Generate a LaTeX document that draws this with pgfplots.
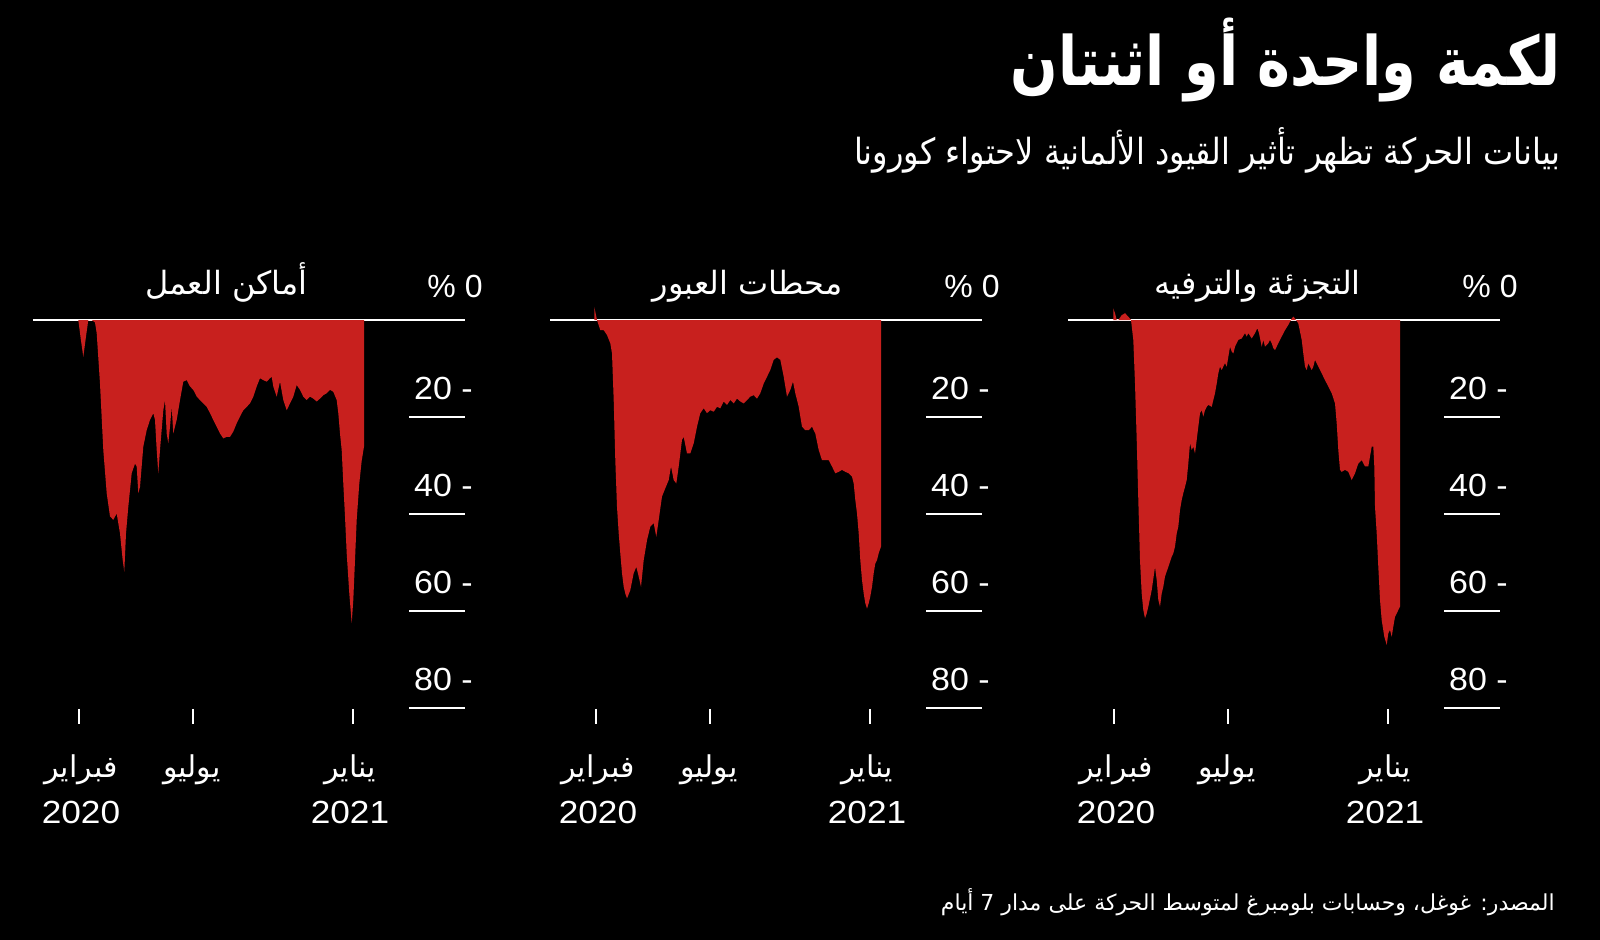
\documentclass[border=0pt]{standalone}
\usepackage{fontspec}
\setmainfont{Liberation Sans}
\newfontfamily\arabicfont[Script=Arabic]{DejaVu Sans}
\usepackage{graphicx}
\usepackage{pgfplots}
\pgfplotsset{compat=1.18}
\TeXXeTstate=1
\definecolor{areared}{RGB}{200,32,30}
\newcommand\num[1]{\scalebox{1.06}[1]{#1}}

\pgfplotstableread{
x y
0.3 0
2.7 3.8
5.3 7.6
8 3.4
10.3 0
13.7 0
17 0.5
18.7 2.7
22 13.1
25.3 26.8
28.7 35.7
32 40.5
35.3 41.2
38.7 39.9
42 44
44.7 49.5
46.3 51.9
48 44
50.3 38.5
53.7 31.6
57 29.6
58.7 30.2
60.3 35.7
62 34.4
65.3 26.1
68.7 22.7
72 20.6
75.3 19.2
77 20.6
78.7 26.8
80.3 31.6
82 26.8
85.3 18.6
87 16.5
88.7 23.4
90.3 25.4
92 22
93.7 17.9
95.3 23.4
98.7 20.6
102 16.5
105.3 12.7
108.7 12.4
112 13.7
115.3 14.4
118.7 15.8
122 16.5
125.3 17.2
128.7 17.9
132 19.2
135.3 20.6
138.7 22
142 23.4
145.3 24.4
148.7 24.1
152 24.1
155.3 23
158.7 21.3
162 19.9
165.3 18.6
168.7 17.9
172 17.2
175.3 15.8
178.7 13.7
182 12
185.3 12.4
188.7 12.7
192 12
193.7 11.7
195.3 13.7
198.7 15.8
202 12.7
205.3 16.5
208.7 18.6
212 17.2
215.3 15.8
218.7 13.4
222 14.4
225.3 15.8
228.7 16.5
232 15.8
235.3 16.2
238.7 16.8
242 16.2
245.3 15.5
248.7 15.1
252 14.4
255.3 14.8
258.7 16.5
260.3 19.2
262 23.4
263.7 26.8
265.3 33.7
267 40.5
268.7 48.1
271.3 56.4
273.7 62.5
275.3 57.7
277 49.5
278.7 41.2
281.3 33.7
283.7 29
286 26.1
}\workplaces

\pgfplotstableread{
x y
-0.7 -2.7
2 0
5.3 2.1
8.7 2.1
12 3.1
15.3 4.8
17 6.9
18.7 16.5
20.3 28.9
22 38.5
23.7 44
25.3 48.1
27 52.2
28.7 55
30.3 56.4
32 57.4
35.3 55.7
38.7 52.2
41.3 50.9
43.7 52.9
46 55
48.7 49.5
52 45.4
55.3 42.6
58.7 41.9
61.3 44.7
63.7 41.2
67 36.4
70.3 34.7
73.7 33
76 30.2
78.7 33
81.3 33.7
83.7 30.2
87 24.7
88.7 24.1
92 27.5
95.3 27.5
98.7 25.4
102 22
105.3 19.2
108.7 18.2
112 19.2
115.3 18.6
118.7 18.9
122 17.9
125.3 18.2
128.7 16.8
132 17.5
135.3 16.5
138.7 17.2
142 16.2
145.3 16.8
148.7 17.2
152 16.5
155.3 15.8
158.7 15.5
162 16.2
165.3 15.1
168.7 13.1
172 11.7
175.3 10.3
178.7 8.2
182 7.7
185.3 8.2
188.7 11.7
192 15.8
195.3 14.4
198 12.7
200.3 15.1
203.7 17.9
207 22
210.3 22.7
213.7 22.7
217 22
220.3 23.4
223.7 26.8
227 28.9
230.3 28.9
233.7 28.9
237 30.2
240.3 31.6
243.7 31.3
247 30.9
250.3 31.3
253.7 31.6
257 32.3
258.7 33.7
260.3 37.1
262 39.9
263.7 44
265.3 49.5
267 53.6
268.7 56.4
270.3 58.4
272 59.5
273.7 58.4
275.3 57
277 55
278.7 52.2
280.3 50.2
282 49.5
283.7 48.1
286 46.7
}\transit

\pgfplotstableread{
x y
0.3 -2.4
2 -1.4
3.7 0
5.3 0
8.7 -1
12 -1.4
15.3 -0.7
18 0
20.3 4.1
22 13.1
23.7 24.7
25.3 37.1
27 49.5
28.7 56.4
30.3 59.8
32 61.5
33.7 60.5
35.3 59.1
38.7 55.7
42 50.9
43.7 53.6
45.3 57.7
47 59.1
48.7 56.4
50.3 55
52 52.9
55.3 50.9
58.7 48.8
60.3 48.1
62 46.7
63.7 44
65.3 42.6
67 39.2
68.7 37.1
70.3 35.7
72 34.4
73.7 33
75.3 29.6
77 25.4
78.7 26.8
80.3 26.1
82 27.5
83.7 24.7
85.3 22
87 19.2
88.7 18.6
90.3 19.9
92 18.6
93.7 17.9
95.3 17.5
98.7 17.9
100.3 16.5
102 15.1
103.7 13.1
105.3 11
107 9.6
108.7 10.3
110.3 9.6
112 8.9
113.7 9.6
115.3 7.6
117 5.5
118.7 6.5
120.3 6.9
122 5.5
123.7 4.8
125.3 4.1
128.7 3.8
132 2.7
133.7 3.4
135.3 2.7
138.7 3.8
142 2.7
144.3 1.7
146 2.7
148.7 5.5
150.3 4.1
152 5.5
155.3 4.8
157 4.1
158.7 4.8
160.3 5.8
162 6.2
165.3 4.8
168.7 3.4
172 2.1
175.3 1
178.7 -0.3
180.3 -0.7
182 -0.3
185.3 0.7
188.7 4.1
190.3 6.9
192 9.6
193.7 10.3
195.3 8.9
197 9.6
198.7 10.3
200.3 9.6
202 8.2
205.3 9.6
208.7 11
212 12.4
215.3 13.7
218.7 15.1
222 17.2
223.7 21.3
225.3 26.8
227 30.9
228.7 31.3
232 30.9
235.3 31.3
238.7 33
242 31.6
245.3 29.6
248.7 28.9
252 30.2
255.3 30.2
258.7 26.1
260.3 26.1
261.3 30.2
262 38.5
263.7 44
265.3 50.9
267 57.7
268.7 61.9
271.3 65.3
273.7 67
275.3 64.6
277 63.9
278.7 65.3
280.3 63.2
282 61.2
283.7 60.5
285.3 59.8
287 59.1
}\retail

\pgfplotsset{
  panel/.style={
    scale only axis, width=216pt, height=218.25pt,
    xmin=-45, xmax=387, ymin=-10, ymax=80, y dir=reverse,
    hide axis, clip=false, anchor=south west}
}
\tikzset{
  lab/.style={white, inner sep=0pt, font=\fontsize{15}{18}\selectfont},
  numlab/.style={white, inner sep=0pt, font=\fontsize{16}{19}\selectfont}
}

% zero line, right-hand scale, panel title and month ticks
\newcommand\paneldecor[2]{%
  \draw[white, line width=1pt] (axis cs:-45,0) -- (axis cs:387,0);
  \draw[white, line width=1pt] (axis cs:331,20) -- (axis cs:387,20);
  \draw[white, line width=1pt] (axis cs:331,40) -- (axis cs:387,40);
  \draw[white, line width=1pt] (axis cs:331,60) -- (axis cs:387,60);
  \draw[white, line width=1pt] (axis cs:331,80) -- (axis cs:387,80);
  \node[numlab, anchor=base east] at (axis cs:405,-4.7) {\% 0};
  \node[numlab, anchor=base east] at (axis cs:395,16.3) {\num{20 -}};
  \node[numlab, anchor=base east] at (axis cs:395,36.3) {\num{40 -}};
  \node[numlab, anchor=base east] at (axis cs:395,56.3) {\num{60 -}};
  \node[numlab, anchor=base east] at (axis cs:395,76.3) {\num{80 -}};
  \node[lab, anchor=base east, font=\fontsize{16}{19}\selectfont] at (axis cs:#1,-5.2) {\arabicfont\beginR #2\endR};
  \draw[white, line width=1pt] (axis cs:1,80.2) -- (axis cs:1,83.3);
  \draw[white, line width=1pt] (axis cs:115,80.2) -- (axis cs:115,83.3);
  \draw[white, line width=1pt] (axis cs:275,80.2) -- (axis cs:275,83.3);
  \node[lab, anchor=base] at (axis cs:3,94.4) {\arabicfont\beginR فبراير\endR};
  \node[numlab, anchor=base] at (axis cs:3,103.9) {\scalebox{1.1}[1]{2020}};
  \node[lab, anchor=base] at (axis cs:114,94.4) {\arabicfont\beginR يوليو\endR};
  \node[lab, anchor=base] at (axis cs:272,94.4) {\arabicfont\beginR يناير\endR};
  \node[numlab, anchor=base] at (axis cs:272,103.9) {\scalebox{1.1}[1]{2021}};
}

\begin{document}
\begin{tikzpicture}
\begin{scope}[x=0.5pt, y=-0.5pt]
  \fill[black] (0,0) rectangle (1600,940);
  \node[white, inner sep=0pt, anchor=base east,
        font=\fontsize{34}{40}\selectfont\bfseries] at (1561,86)
        {\scalebox{0.82}[1]{\arabicfont\beginR لكمة واحدة أو اثنتان\endR}};
  \node[white, inner sep=0pt, anchor=base east,
        font=\fontsize{18}{22}\selectfont] at (1561,165)
        {\scalebox{0.89}[1]{\arabicfont\beginR بيانات الحركة تظهر تأثير القيود الألمانية لاحتواء كورونا\endR}};
  \node[white, inner sep=0pt, anchor=base east,
        font=\fontsize{11}{13}\selectfont] at (1555,910)
        {\arabicfont\beginR المصدر: غوغل، وحسابات بلومبرغ لمتوسط الحركة على مدار 7 أيام\endR};
\end{scope}

\begin{axis}[panel, at={(16.5pt,-354pt)}]
  \paneldecor{230}{أماكن العمل}
  \addplot[fill=areared, draw=none] table {\workplaces} \closedcycle;
\end{axis}

\begin{axis}[panel, at={(275pt,-354pt)}]
  \paneldecor{248}{محطات العبور}
  \addplot[fill=areared, draw=none] table {\transit} \closedcycle;
\end{axis}

\begin{axis}[panel, at={(534pt,-354pt)}]
  \paneldecor{248}{التجزئة والترفيه}
  \addplot[fill=areared, draw=none] table {\retail} \closedcycle;
\end{axis}
\end{tikzpicture}
\end{document}
